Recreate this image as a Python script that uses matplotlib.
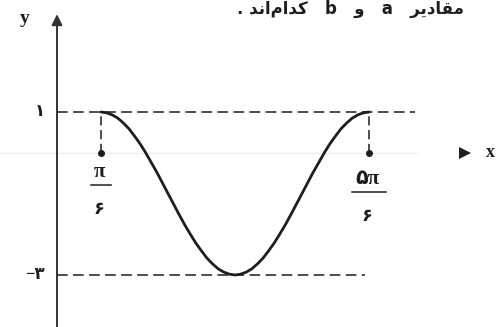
import numpy as np
import matplotlib.pyplot as plt

# curve: x in degrees, y values
x_deg = [30, 32.5, 35, 37.5, 40, 42.5, 45, 47.5, 50, 52.5, 55, 57.5, 60,
         62.5, 65, 67.5, 70, 72.5, 75, 77.5, 80, 82.5, 85, 87.5, 90,
         92.5, 95, 97.5, 100, 102.5, 105, 107.5, 110, 112.5, 115, 117.5, 120,
         122.5, 125, 127.5, 130, 132.5, 135, 137.5, 140, 142.5, 145, 147.5, 150]
y_vals = [1, 0.98, 0.93, 0.85, 0.73, 0.59, 0.41, 0.22, 0,
          -0.24, -0.48, -0.74, -1, -1.26, -1.52, -1.77, -2,
          -2.22, -2.41, -2.59, -2.73, -2.85, -2.93, -2.98, -3,
          -2.98, -2.93, -2.85, -2.73, -2.59, -2.41, -2.22, -2,
          -1.77, -1.52, -1.26, -1, -0.74, -0.48, -0.24, 0,
          0.22, 0.41, 0.59, 0.73, 0.85, 0.93, 0.98, 1]

# marked points and labels
x_marks_deg = [30, 150]
x_mark_nums = ["π", "۵π"]
x_mark_den = "۶"
y_levels = [1, -3]
y_level_labels = ["۱", "−۳"]

# top sentence, written in visual order with presentation forms
top_text = (". \uFEAA\uFEE7\uFE8D\uFEE1\uFE8D\uFEAA\uFEDB   b   \uFEED   a   "
            "\uFEAE\uFEF3\uFEA9\uFE8E\uFED8\uFEE3")

ink = "#1e1e1e"
serif = ["Liberation Serif", "DejaVu Sans"]

fig = plt.figure(figsize=(4.98, 3.27), dpi=100)
ax = fig.add_axes([0, 0, 1, 1])
ax.set_xlim(-0.2657, 3.626)
ax.set_ylim(-4.276, 3.748)
ax.axis("off")

x = np.deg2rad(x_deg)
xm = np.deg2rad(x_marks_deg)
y_axis_x = 0.1798

# faint x axis
ax.plot([-0.3, 3.0], [0, 0], color="#ebebeb", lw=1, zorder=0)
ax.plot([3.368], [0], marker=">", ms=9, color=ink, mew=0)
ax.text(3.57, 0, "x", family=serif, fontsize=13, fontweight="bold",
        ha="center", va="center", color=ink)

# y axis with arrow
ax.annotate("", xy=(y_axis_x, 3.4), xytext=(y_axis_x, -4.4),
            arrowprops=dict(arrowstyle="-|>", lw=1.4, color="#333333",
                            mutation_scale=16, shrinkA=0, shrinkB=0))
ax.text(-0.07, 3.3, "y", family=serif, fontsize=14, fontweight="bold",
        ha="center", va="center", color=ink)

# dashed level lines
ax.hlines(y_levels[0], y_axis_x, 2.977, colors=ink, lw=1.1, linestyles=(0, (7, 3.5)))
ax.hlines(y_levels[1], y_axis_x, 2.587, colors=ink, lw=1.1, linestyles=(0, (7, 3.5)))
for yl, lab in zip(y_levels, y_level_labels):
    ax.annotate(lab, xy=(y_axis_x, yl), xytext=(-12, 0), textcoords="offset pixels",
                ha="right", va="center", fontsize=12, fontweight="bold",
                family=serif, color=ink)

# drop lines to x axis with dots
for xv in xm:
    ax.vlines(xv, 0, 1, colors=ink, lw=1.1, linestyles=(0, (6, 3)))
    ax.plot([xv], [0], "o", ms=4, color=ink)

# fraction labels
for xv, num, dy in zip(xm, x_mark_nums, [0, 7]):
    ax.annotate(num, xy=(xv, 0), xytext=(-2, -19 - dy), textcoords="offset pixels",
                ha="center", va="center", fontsize=15, fontweight="bold",
                family=serif, color=ink)
    w = 0.08 if num == "π" else 0.13
    ax.plot([xv - w, xv + w], [-0.8 - dy / 40.75, -0.8 - dy / 40.75], color=ink, lw=1.1)
    ax.annotate(x_mark_den, xy=(xv, 0), xytext=(-2, -57 - dy), textcoords="offset pixels",
                ha="center", va="center", fontsize=13, fontweight="bold",
                family=serif, color=ink)

# the curve
ax.plot(x, y_vals, color=ink, lw=2, solid_capstyle="round")

fig.text(237 / 498, 1 - 14 / 327, top_text, fontsize=12, fontweight="bold",
         family=["DejaVu Sans"], ha="left", va="baseline", color=ink)

fig.savefig("out.png", dpi=100)
